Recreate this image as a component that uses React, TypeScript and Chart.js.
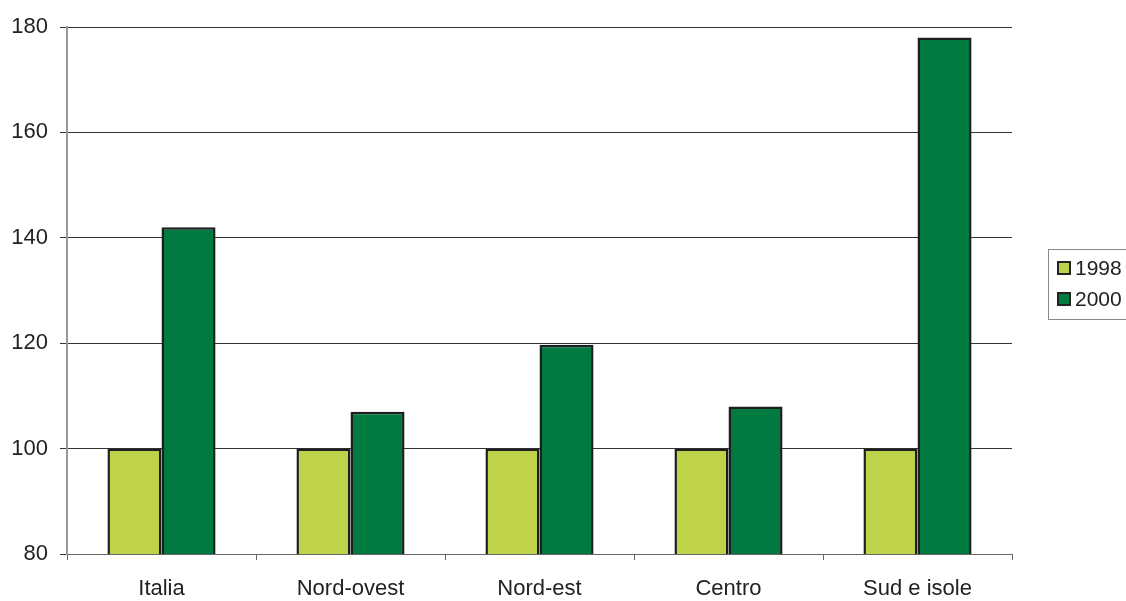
import React, { useEffect, useRef } from "react";
import { Chart, registerables } from "chart.js";

Chart.register(...registerables);

const categories = ["Italia", "Nord-ovest", "Nord-est", "Centro", "Sud e isole"];
const series1998 = [100, 100, 100, 100, 100];
const series2000 = [142, 107, 119.7, 108, 178];
const seriesLabels = ["1998", "2000"];
const seriesColors = ["#BFD34A", "#007A40"];

export default function App() {
  const ref = useRef<HTMLCanvasElement>(null);
  useEffect(() => {
    if (!ref.current) return;
    const chart = new Chart(ref.current, {
      type: "bar",
      data: {
        labels: categories,
        datasets: [
          { label: seriesLabels[0], data: series1998, backgroundColor: seriesColors[0], borderColor: "#1e1e1e", borderWidth: 2.5, borderSkipped: false },
          { label: seriesLabels[1], data: series2000, backgroundColor: seriesColors[1], borderColor: "#1e1e1e", borderWidth: 2.5, borderSkipped: false },
        ],
      },
      options: {
        animation: false,
        responsive: false,
        maintainAspectRatio: false,
        layout: { padding: { top: 27, right: 114, left: 0, bottom: 0 } },
        plugins: { legend: { display: false }, tooltip: { enabled: false } },
        datasets: { bar: { categoryPercentage: 0.572, barPercentage: 1 } },
        scales: {
          x: {
            afterFit: (s: any) => { s.height = 47; },
            grid: { offset: true, drawOnChartArea: false, drawTicks: true, tickLength: 6, color: "#666" },
            border: { color: "#666", width: 1 },
            ticks: { color: "#222", font: { family: "Liberation Sans", size: 22 }, padding: 16 },
          },
          y: {
            min: 80,
            max: 180,
            afterFit: (s: any) => { s.width = 67; },
            ticks: { stepSize: 20, color: "#222", font: { family: "Liberation Sans", size: 22 }, padding: 12 },
            grid: { color: "#333", tickLength: 7, lineWidth: 1 },
            border: { color: "#999", width: 2 },
          },
        },
      },
    });
    return () => chart.destroy();
  }, []);
  return (
    <div style={{ position: "fixed", left: 0, top: 0, width: 1126, height: 601, background: "#fff" }}>
      <canvas ref={ref} width={1126} height={601} style={{ display: "block" }} />
      <div style={{ position: "absolute", left: 1048, top: 249, width: 80, height: 71, border: "1px solid #888", boxSizing: "border-box", fontFamily: "Liberation Sans", fontSize: 21, color: "#222" }}>
        {seriesLabels.map((l, i) => (
          <div key={l} style={{ position: "absolute", left: 8, top: 6 + i * 31, display: "flex", alignItems: "center" }}>
            <span style={{ display: "inline-block", width: 10, height: 10, background: seriesColors[i], border: "2px solid #222", marginRight: 4 }} />
            <span>{l}</span>
          </div>
        ))}
      </div>
    </div>
  );
}
